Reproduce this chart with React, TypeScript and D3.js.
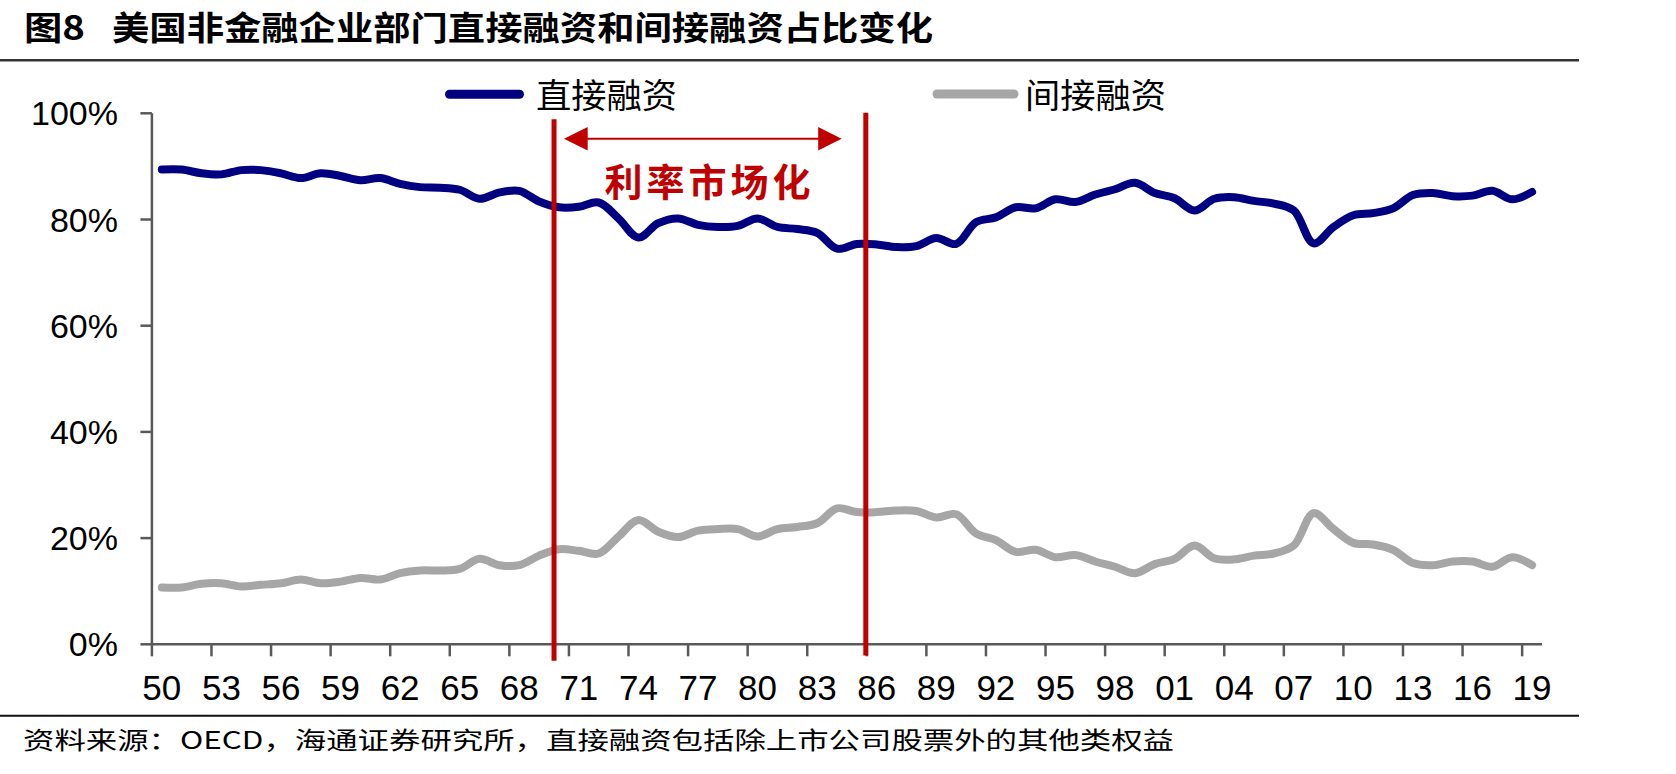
import React from "react";
import * as d3 from "d3";

const years = d3.range(1950, 2020);

const direct = [
  89.4, 89.4, 88.7, 88.5, 89.3, 89.3, 88.7, 87.8, 88.7, 88.2,
  87.4, 87.8, 86.7, 86.1, 86.0, 85.6, 83.9, 85.1, 85.4, 83.4,
  82.3, 82.4, 83.2, 80.2, 76.6, 79.3, 80.2, 79.0, 78.6, 78.8,
  80.2, 78.6, 78.2, 77.5, 74.5, 75.4, 75.3, 74.8, 75.0, 76.5,
  75.4, 79.5, 80.4, 82.3, 82.1, 83.8, 83.3, 84.7, 85.7, 86.9,
  85.0, 84.0, 81.7, 83.9, 84.2, 83.5, 83.0, 81.7, 75.5, 78.6,
  80.8, 81.2, 82.1, 84.6, 85.0, 84.4, 84.5, 85.4, 83.8, 85.2,
];

const indirect = [
  10.7, 10.7, 11.4, 11.5, 10.9, 11.2, 11.5, 12.2, 11.5, 11.8,
  12.5, 12.2, 13.4, 13.9, 13.9, 14.2, 16.1, 14.9, 14.9, 16.7,
  17.9, 17.6, 17.1, 20.3, 23.4, 21.2, 20.2, 21.4, 21.7, 21.7,
  20.3, 21.7, 22.1, 22.8, 25.6, 24.9, 24.9, 25.2, 25.1, 23.9,
  24.5, 20.9, 19.6, 17.4, 17.8, 16.4, 16.8, 15.6, 14.6, 13.4,
  15.1, 16.1, 18.6, 16.2, 16.0, 16.7, 17.1, 18.6, 24.7, 21.7,
  19.1, 18.8, 17.8, 15.3, 14.9, 15.6, 15.6, 14.6, 16.4, 14.9,
];

const yTicks = [0, 20, 40, 60, 80, 100];
const xTickYears = years.filter((_, i) => i % 3 === 0);

const figNo = "图8";
const title = "美国非金融企业部门直接融资和间接融资占比变化";
const source = "资料来源：OECD，海通证券研究所，直接融资包括除上市公司股票外的其他类权益";
const seriesNames = ["直接融资", "间接融资"];
const annotation = "利率市场化";
// start / end of the rate liberalisation period (fractional years)
const periodMarks = [1970.25, 1985.95];

const W = 1676;
const H = 774;
const plot = { left: 151.9, right: 1542, top: 113.3, bottom: 644.3 };

const NAVY = "#000080";
const GREY = "#A6A6A6";
const RED = "#C00000";
const AXIS = "#595959";
const LATIN = "'Liberation Sans', Arial, sans-serif";
const CJK = "'Noto Sans CJK SC', sans-serif";

export default function App() {
  const x = d3.scaleBand<number>().domain(years).range([plot.left, plot.right]).padding(0);
  const bw = x.bandwidth();
  const xc = (yr: number) => (x(yr) ?? 0) + bw / 2;
  const xf = d3.scaleLinear().domain([1950, 2020]).range([plot.left, plot.right]);
  const y = d3.scaleLinear().domain([0, 100]).range([plot.bottom, plot.top]);

  const line = d3
    .line<number>()
    .x((_, i) => xc(years[i]))
    .y((d) => y(d))
    .curve(d3.curveCatmullRom.alpha(0.5));

  const arrowY = y(95.2);
  const aL = xf(1970.75);
  const aR = xf(1984.73);

  return (
    <svg
      width={W}
      height={H}
      style={{ position: "absolute", left: 0, top: 0, background: "#fff" }}
    >
      {/* title */}
      <text
        x={24}
        y={26}
        fontFamily={CJK}
        fontWeight={700}
        fontSize={33}
        dominantBaseline="central"
        textLength={61}
        lengthAdjust="spacingAndGlyphs"
        fill="#000"
      >
        {figNo}
      </text>
      <text
        x={112}
        y={26}
        fontFamily={CJK}
        fontWeight={700}
        fontSize={33}
        dominantBaseline="central"
        textLength={821}
        lengthAdjust="spacingAndGlyphs"
        fill="#000"
      >
        {title}
      </text>
      <line x1={0} x2={1579} y1={60.3} y2={60.3} stroke="#333" strokeWidth={2.5} />

      {/* legend */}
      <line x1={449.5} x2={519.5} y1={94.3} y2={94.3} stroke={NAVY} strokeWidth={9} strokeLinecap="round" />
      <text
        x={536}
        y={93.5}
        fontFamily={CJK}
        fontSize={34}
        dominantBaseline="central"
        textLength={141}
        lengthAdjust="spacingAndGlyphs"
        fill="#000"
      >
        {seriesNames[0]}
      </text>
      <line x1={937} x2={1014} y1={94} y2={94} stroke={GREY} strokeWidth={9} strokeLinecap="round" />
      <text
        x={1025}
        y={93.5}
        fontFamily={CJK}
        fontSize={34}
        dominantBaseline="central"
        textLength={141}
        lengthAdjust="spacingAndGlyphs"
        fill="#000"
      >
        {seriesNames[1]}
      </text>

      {/* y axis */}
      <line x1={plot.left} x2={plot.left} y1={y(100)} y2={y(0)} stroke={AXIS} strokeWidth={2.5} />
      {yTicks.map((t) => (
        <g key={t}>
          <line x1={plot.left - 11.5} x2={plot.left} y1={y(t)} y2={y(t)} stroke={AXIS} strokeWidth={2.5} />
          <text
            x={118}
            y={y(t)}
            textAnchor="end"
            dominantBaseline="central"
            fontFamily={LATIN}
            fontSize={34}
            fill="#000"
          >
            {t}%
          </text>
        </g>
      ))}

      {/* x axis */}
      <line x1={plot.left} x2={plot.right} y1={y(0)} y2={y(0)} stroke={AXIS} strokeWidth={2.5} />
      {xTickYears.map((yr) => (
        <g key={yr}>
          <line x1={x(yr)} x2={x(yr)} y1={y(0)} y2={y(0) + 12} stroke={AXIS} strokeWidth={2.5} />
          <text x={xc(yr)} y={700} textAnchor="middle" fontFamily={LATIN} fontSize={35} fill="#000">
            {String(yr % 100).padStart(2, "0")}
          </text>
        </g>
      ))}

      {/* series */}
      <path d={line(indirect) ?? ""} fill="none" stroke={GREY} strokeWidth={8} strokeLinejoin="round" strokeLinecap="round" />
      <path d={line(direct) ?? ""} fill="none" stroke={NAVY} strokeWidth={8} strokeLinejoin="round" strokeLinecap="round" />

      {/* period markers */}
      <line x1={xf(periodMarks[0])} x2={xf(periodMarks[0])} y1={y(98.9)} y2={y(-3.1)} stroke={RED} strokeWidth={5} />
      <line x1={xf(periodMarks[1])} x2={xf(periodMarks[1])} y1={y(100.1)} y2={y(-2.1)} stroke={RED} strokeWidth={5} />

      {/* double arrow */}
      <line x1={aL + 20} x2={aR - 20} y1={arrowY} y2={arrowY} stroke={RED} strokeWidth={2} />
      <path d={`M${aL},${arrowY} L${aL + 23.7},${arrowY - 11.7} L${aL + 23.7},${arrowY + 11.7} Z`} fill={RED} />
      <path d={`M${aR},${arrowY} L${aR - 23.4},${arrowY - 11.7} L${aR - 23.4},${arrowY + 11.7} Z`} fill={RED} />
      <text
        x={xf(1978.08)}
        y={y(87.6)}
        textAnchor="middle"
        dominantBaseline="central"
        fontFamily={CJK}
        fontWeight={700}
        fontSize={38}
        letterSpacing={4}
        fill={RED}
      >
        {annotation}
      </text>

      {/* source */}
      <line x1={0} x2={1579} y1={715.7} y2={715.7} stroke="#111" strokeWidth={2} />
      <text
        x={23}
        y={738}
        fontFamily={CJK}
        fontSize={24}
        dominantBaseline="central"
        textLength={1151}
        lengthAdjust="spacingAndGlyphs"
        fill="#000"
      >
        {source}
      </text>
    </svg>
  );
}
